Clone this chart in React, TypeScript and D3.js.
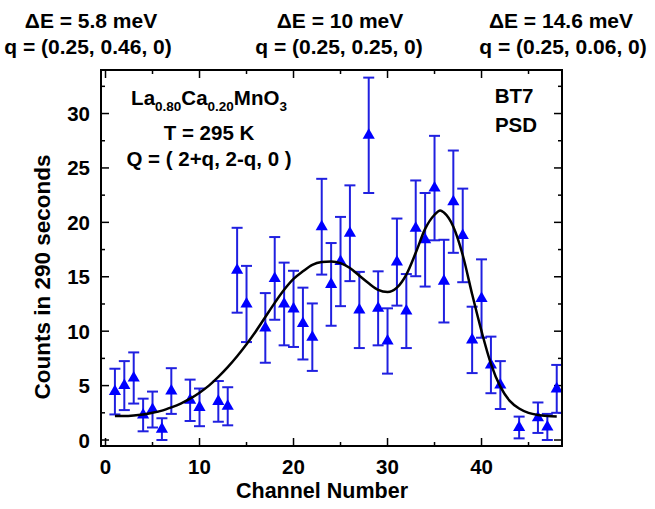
import React from "react";
import * as d3 from "d3";

const channels = [1,2,3,4,5,6,7,9,10,12,13,14,15,17,18,19,20,21,22,23,24,25,26,27,28,29,30,31,32,33,34,35,36,37,38,39,40,41,42,44,46,47,48];
const counts = [4.45,5.0,5.7,2.3,2.8,1.0,4.5,3.65,3.0,3.55,3.1,15.6,12.5,10.3,14.85,12.5,12.05,10.7,9.45,19.6,14.3,16.4,19.0,11.95,28.0,12.1,9.1,16.35,11.85,19.45,18.4,23.15,14.6,21.9,18.8,9.2,13.0,6.9,5.05,1.15,2.05,1.2,4.7];
const errors = [2.1,2.25,2.35,1.5,1.65,1.0,2.1,1.9,1.73,1.87,1.75,3.9,3.5,3.2,3.8,3.8,3.5,3.3,3.1,4.4,3.8,4.1,4.4,3.5,5.3,3.4,3.0,4.0,3.4,4.4,4.3,4.8,3.8,4.7,4.3,3.05,3.6,2.6,2.2,1.0,1.4,1.2,2.2];

const fitX = [1,2,3,4,5,6,7,8,9,10,11,12,13,14,15,16,17,18,19,20,21,22,23,24,25,26,27,28,29,30,31,32,33,34,35,35.6,36,37,38,39,40,41,42,43,44,45,46,47,48];
const fitY = [2.2,2.2,2.25,2.35,2.5,2.7,3.0,3.35,3.8,4.35,5.0,5.8,6.7,7.7,8.8,10.0,11.3,12.6,13.8,14.8,15.5,16.1,16.35,16.4,16.25,15.8,15.1,14.4,13.8,13.6,14.0,15.2,17.2,19.4,20.7,21.1,20.9,19.6,17.0,13.4,10.0,7.0,4.9,3.6,2.9,2.5,2.3,2.2,2.15];

const xTicks = [0,10,20,30,40];
const xMinor = [5,15,25,35,45];
const yTicks = [0,5,10,15,20,25,30];
const yMinor = [2.5,7.5,12.5,17.5,22.5,27.5,32.5];

const headerE = ["\u0394E = 5.8 meV", "\u0394E = 10 meV", "\u0394E = 14.6 meV"];
const headerQ = ["q = (0.25, 0.46, 0)", "q = (0.25, 0.25, 0)", "q = (0.25, 0.06, 0)"];

const W = 655, H = 509;
const L = 101, R = 562, T = 70, B = 446;
const font = "'Liberation Sans', Arial, sans-serif";

export default function App() {
  const x = d3.scaleLinear().domain([-0.48, 48.56]).range([L, R]);
  const y = d3.scaleLinear().domain([-0.55, 34]).range([B, T]);
  const line = d3.line<number>().x((d, i) => x(fitX[i])).y((d) => y(d)).curve(d3.curveMonotoneX);
  const tri = d3.symbol().type(d3.symbolTriangle).size(64)();
  const headerCxE = [91, 340, 561];
  const headerCxQ = [88, 339, 563];
  const blue = "#0000ff";
  const barBlue = "#2020e0";
  return (
    <svg width={W} height={H} style={{ position: "absolute", left: 0, top: 0, background: "#fff" }} fontFamily={font} fontWeight="bold">
      {headerE.map((t, i) => (
        <text key={"e" + i} x={headerCxE[i]} y={28} textAnchor="middle" fontSize={21}>{t}</text>
      ))}
      {headerQ.map((t, i) => (
        <text key={"q" + i} x={headerCxQ[i]} y={54} textAnchor="middle" fontSize={21}>{t}</text>
      ))}
      {xTicks.map((v) => (
        <g key={"xt" + v}>
          <line x1={x(v)} x2={x(v)} y1={B} y2={B - 8} stroke="#000" strokeWidth={1.5} />
          <line x1={x(v)} x2={x(v)} y1={T} y2={T + 8} stroke="#000" strokeWidth={1.5} />
          <text x={x(v)} y={B + 28} textAnchor="middle" fontSize={20.5}>{v}</text>
        </g>
      ))}
      {xMinor.map((v) => (
        <g key={"xm" + v}>
          <line x1={x(v)} x2={x(v)} y1={B} y2={B - 4} stroke="#000" strokeWidth={1.5} />
          <line x1={x(v)} x2={x(v)} y1={T} y2={T + 4} stroke="#000" strokeWidth={1.5} />
        </g>
      ))}
      {yTicks.map((v) => (
        <g key={"yt" + v}>
          <line x1={L} x2={L + 8} y1={y(v)} y2={y(v)} stroke="#000" strokeWidth={1.5} />
          <line x1={R} x2={R - 8} y1={y(v)} y2={y(v)} stroke="#000" strokeWidth={1.5} />
          <text x={90} y={y(v) + 7.5} textAnchor="end" fontSize={20.5}>{v}</text>
        </g>
      ))}
      {yMinor.map((v) => (
        <g key={"ym" + v}>
          <line x1={L} x2={L + 4} y1={y(v)} y2={y(v)} stroke="#000" strokeWidth={1.5} />
          <line x1={R} x2={R - 4} y1={y(v)} y2={y(v)} stroke="#000" strokeWidth={1.5} />
        </g>
      ))}
      {channels.map((c, i) => {
        const cx = x(c);
        const y1 = y(counts[i] + errors[i]);
        const y2 = y(counts[i] - errors[i]);
        return (
          <g key={"eb" + i} stroke={barBlue} strokeWidth={2}>
            <line x1={cx} x2={cx} y1={y1} y2={y2} />
            <line x1={cx - 5.5} x2={cx + 5.5} y1={y1} y2={y1} />
            <line x1={cx - 5.5} x2={cx + 5.5} y1={y2} y2={y2} />
          </g>
        );
      })}
      {channels.map((c, i) => (
        <path key={"m" + i} d={tri || ""} transform={`translate(${x(c)},${y(counts[i])})`} fill={blue} />
      ))}
      <path d={line(fitY) || ""} fill="none" stroke="#000" strokeWidth={2.5} />
      <rect x={L} y={T} width={R - L} height={B - T} fill="none" stroke="#000" strokeWidth={2} />
      <text x={209} y={105} textAnchor="middle" fontSize={20.5}>
        La<tspan fontSize={13.5} dy={6}>0.80</tspan><tspan dy={-6}>Ca</tspan><tspan fontSize={13.5} dy={6}>0.20</tspan><tspan dy={-6}>MnO</tspan><tspan fontSize={13.5} dy={6}>3</tspan>
      </text>
      <text x={209} y={140} textAnchor="middle" fontSize={20.5}>T = 295 K</text>
      <text x={209} y={166} textAnchor="middle" fontSize={20.5}>Q = ( 2+q, 2-q, 0 )</text>
      <text x={514} y={103} textAnchor="middle" fontSize={20.5}>BT7</text>
      <text x={516} y={132} textAnchor="middle" fontSize={20.5}>PSD</text>
      <text x={322} y={498} textAnchor="middle" fontSize={21.5}>Channel Number</text>
      <text transform={`translate(50,277) rotate(-90)`} textAnchor="middle" fontSize={22.5}>Counts in 290 seconds</text>
    </svg>
  );
}
